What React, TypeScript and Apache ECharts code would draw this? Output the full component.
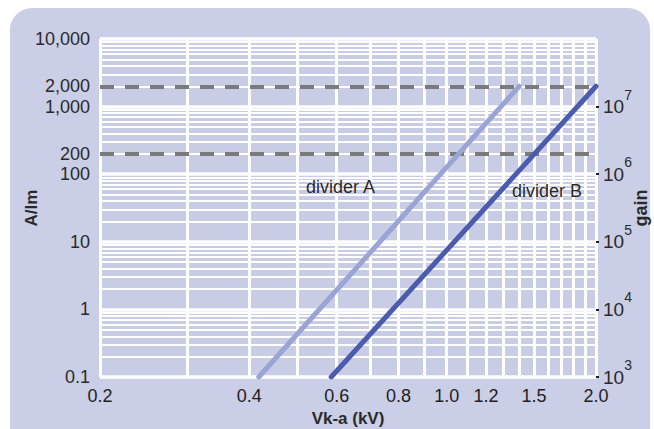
import React, { useEffect, useRef } from "react";
import * as echarts from "echarts";

// ---- data ----
const xGridValues = [0.2, 0.3, 0.4, 0.5, 0.6, 0.7, 0.8, 0.9, 1.0, 1.1, 1.2, 1.3, 1.4, 1.5, 1.6, 1.7, 1.8, 1.9, 2.0];
const xLabelValues = [0.2, 0.4, 0.6, 0.8, 1.0, 1.2, 1.5, 2.0];
const yGridValues = [
  0.1, 0.2, 0.3, 0.4, 0.5, 0.6, 0.7, 0.8, 0.9,
  1, 2, 3, 4, 5, 6, 7, 8, 9,
  10, 20, 30, 40, 50, 60, 70, 80, 90,
  100, 200, 300, 400, 500, 600, 700, 800, 900,
  1000, 2000, 3000, 4000, 5000, 6000, 7000, 8000, 9000,
  10000,
];
const yMajorValues = [0.1, 1, 10, 100, 1000, 10000];
const yLabelValues = [0.1, 1, 10, 100, 200, 1000, 2000, 10000];
const yLabelTexts = ["0.1", "1", "10", "100", "200", "1,000", "2,000", "10,000"];
const gainExponents = [3, 4, 5, 6, 7];
const gainPerAlm = 10000; // gain = 1e4 x A/lm
const thresholdLevels = [200, 2000];
const dividerA = [[0.418, 0.1], [1.40, 2000]];
const dividerB = [[0.585, 0.1], [2.0, 2000]];

const L = (v: number) => Math.log10(v);
const FONT = '"Liberation Sans", Arial, sans-serif';

export default function App() {
  const ref = useRef<HTMLDivElement>(null);
  useEffect(() => {
    if (!ref.current) return;
    const chart = echarts.init(ref.current, undefined, { renderer: "svg" });
    const yLabelMap = (v: number) => {
      let best = 0;
      let bd = Infinity;
      yLabelValues.forEach((y, i) => {
        const d = Math.abs(L(y) - v);
        if (d < bd) { bd = d; best = i; }
      });
      return yLabelTexts[best];
    };
    chart.setOption({
      animation: false,
      backgroundColor: "#ffffff",
      textStyle: { fontFamily: FONT },
      graphic: [
        {
          type: "rect",
          z: -10,
          shape: { x: 10, y: 8, width: 640, height: 450, r: 22 },
          style: { fill: "#CACEE6" },
          silent: true,
        },
        {
          type: "text",
          z: 10,
          left: 306,
          top: 178,
          style: { text: "divider A", fontSize: 18, fontFamily: FONT, fill: "#2a2a2a" },
        },
        {
          type: "text",
          z: 10,
          left: 512,
          top: 182,
          style: { text: "divider B", fontSize: 18, fontFamily: FONT, fill: "#2a2a2a" },
        },
      ],
      grid: {
        left: 100,
        right: 58,
        top: 39,
        bottom: 52,
        show: true,
        backgroundColor: "#C8CCE5",
        borderWidth: 0,
        containLabel: false,
        outerBoundsMode: "none",
      },
      xAxis: {
        type: "value",
        min: L(0.2),
        max: L(2.0),
        name: "Vk-a (kV)",
        nameLocation: "middle",
        nameGap: 31,
        nameTextStyle: { fontSize: 17, fontWeight: "bold", color: "#2a2a2a", fontFamily: FONT },
        axisLine: { show: false },
        axisTick: { show: false, customValues: xGridValues.map(L) },
        splitLine: { show: true, lineStyle: { color: "#ffffff", width: 3 } },
        axisLabel: {
          customValues: xLabelValues.map(L),
          margin: 10,
          fontSize: 18,
          color: "#1e1e1e",
          fontFamily: FONT,
          formatter: (v: number) => Math.pow(10, v).toFixed(1),
        },
      },
      yAxis: [
        {
          type: "value",
          min: L(0.1),
          max: L(10000),
          name: "A/lm",
          nameLocation: "middle",
          nameGap: 60,
          nameMoveOverlap: false,
          nameTextStyle: { fontSize: 17, fontWeight: "bold", color: "#2a2a2a", fontFamily: FONT },
          axisLine: { show: false },
          axisTick: { show: false, customValues: yGridValues.map(L) },
          splitLine: { show: true, lineStyle: { color: "#ffffff", width: 2 } },
          axisLabel: {
            customValues: yLabelValues.map(L),
            margin: 10,
            fontSize: 18,
            lineHeight: 17,
            color: "#2a2a2a",
            fontFamily: FONT,
            formatter: yLabelMap,
          },
        },
        {
          type: "value",
          position: "right",
          min: L(0.1 * gainPerAlm),
          max: L(10000 * gainPerAlm),
          name: "gain",
          nameLocation: "middle",
          nameGap: 36,
          nameRotate: 90,
          nameMoveOverlap: false,
          nameTextStyle: { fontSize: 18, fontWeight: "bold", color: "#2a2a2a", fontFamily: FONT },
          axisLine: { show: false },
          splitLine: { show: false },
          axisTick: {
            show: true,
            length: 3,
            customValues: gainExponents,
            lineStyle: { color: "#1e1e1e", width: 2 },
          },
          axisLabel: {
            customValues: gainExponents,
            margin: 7,
            fontFamily: FONT,
            formatter: (v: number) => `{b|10}{s|${Math.round(v)}}`,
            rich: {
              b: { fontSize: 19, lineHeight: 18, padding: [10, 0, 10, 0], color: "#2a2a2a", fontFamily: FONT },
              s: { fontSize: 14, lineHeight: 14, padding: [0, 0, 24, 0], color: "#2a2a2a", fontFamily: FONT },
            },
          },
        },
      ],
      series: [
        {
          name: "divider A",
          type: "line",
          z: 3,
          showSymbol: false,
          data: dividerA.map(([x, y]) => [L(x), L(y)]),
          lineStyle: { color: "#9BA5D5", width: 5, cap: "round" },
          markLine: {
            silent: true,
            z: 1,
            symbol: "none",
            label: { show: false },
            lineStyle: { color: "#ffffff", width: 3.5, type: "solid" },
            data: yMajorValues.map((v) => ({ yAxis: L(v) })),
          },
        },
        {
          name: "divider B",
          type: "line",
          z: 3,
          showSymbol: false,
          data: dividerB.map(([x, y]) => [L(x), L(y)]),
          lineStyle: { color: "#4B5CAF", width: 5, cap: "round" },
          markLine: {
            silent: true,
            z: 2,
            symbol: "none",
            label: { show: false },
            lineStyle: { color: "#7a7a7a", width: 4, type: [14, 11] },
            data: thresholdLevels.map((v) => ({ yAxis: L(v) })),
          },
        },
      ],
    });
    return () => chart.dispose();
  }, []);
  return (
    <div
      ref={ref}
      style={{ position: "fixed", left: 0, top: 0, width: 654, height: 429 }}
    />
  );
}
